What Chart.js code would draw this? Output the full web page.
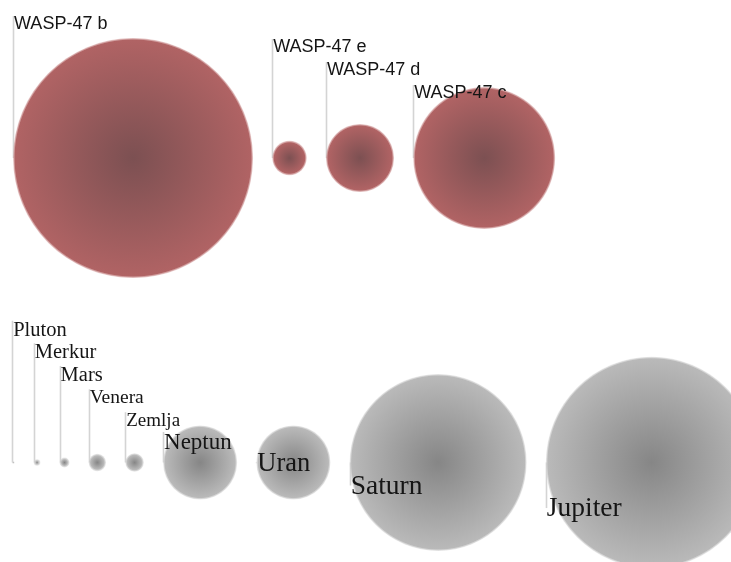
<!DOCTYPE html>
<html>
<head>
<meta charset="utf-8">
<script src="https://cdn.jsdelivr.net/npm/chart.js@4/dist/chart.umd.min.js"></script>
<style>
  html, body { margin: 0; padding: 0; background: #fff; }
  #wrap { width: 731px; height: 562px; }
</style>
</head>
<body>
<div id="wrap"><canvas id="c" width="731" height="562"></canvas></div>
<script>
// ---- data (planet radii, thousand km) ----
const waspNames = ['WASP-47 b', 'WASP-47 e', 'WASP-47 d', 'WASP-47 c'];
const waspRadii = [80, 11.5, 22.7, 47.3];
const solarNames = ['Pluton', 'Merkur', 'Mars', 'Venera', 'Zemlja', 'Neptun', 'Uran', 'Saturn', 'Jupiter'];
const solarRadii = [0.8, 2.2, 3.3, 5.8, 6.2, 24.7, 24.7, 59, 70.5];
const systemRows = [1, 0]; // row value: WASP-47 system on top, Solar system below

// ---- layout (scale units == thousand km) ----
const W = 731, H = 562;
const X_MAX = W / 1.5;        // 1.5 px per 1000 km
const PX = W / X_MAX;
const GAP = 12.8;             // gap between bubbles

function pack(names, radii, row, start) {
  let left = start;
  return radii.map((r, i) => {
    const x = left + r;
    left = x + r + GAP;
    return { x: x, y: row, r: r * PX, name: names[i] };
  });
}

function radialFill(inner, outer, rim) {
  return (ctx) => {
    if (ctx.type !== 'data' || !ctx.raw) return outer;
    const ch = ctx.chart;
    const sx = ch.scales.x, sy = ch.scales.y;
    if (!sx || !sy) return outer;
    const x = sx.getPixelForValue(ctx.raw.x);
    const y = sy.getPixelForValue(ctx.raw.y);
    const r = Math.max(ctx.raw.r, 0.5);
    if (!isFinite(x) || !isFinite(y) || !isFinite(r)) return outer;
    const g = ch.ctx.createRadialGradient(x, y, 0, x, y, r);
    g.addColorStop(0, inner);
    g.addColorStop(Math.max(0, 1 - 2.0 / r), outer);
    g.addColorStop(1, rim);
    return g;
  };
}

const labelPlugin = {
  id: 'planetLabels',
  beforeDatasetsDraw(chart, args, opts) {
    const c = chart.ctx;
    c.save();
    chart.data.datasets.forEach((ds, di) => {
      const cfg = opts.rows[di];
      const meta = chart.getDatasetMeta(di);
      meta.data.forEach((el, i) => {
        const r = el.options.radius;
        const lx = Math.round(el.x - r) + 0.5;
        const base = cfg.firstBaseline + i * cfg.step;
        const size = cfg.sizes[i];
        const top = base - size * 0.72;
        let y1, y2;
        if (base < el.y) { y1 = top; y2 = el.y; }
        else { y1 = el.y; y2 = base - size * 0.3; }
        c.strokeStyle = '#d4d4d4';
        c.lineWidth = 1.6;
        c.beginPath();
        c.moveTo(lx, y1);
        c.lineTo(lx, y2);
        c.stroke();
      });
    });
    c.restore();
  },
  afterDatasetsDraw(chart, args, opts) {
    const c = chart.ctx;
    c.save();
    chart.data.datasets.forEach((ds, di) => {
      const cfg = opts.rows[di];
      const meta = chart.getDatasetMeta(di);
      meta.data.forEach((el, i) => {
        const r = el.options.radius;
        const base = cfg.firstBaseline + i * cfg.step;
        c.font = cfg.sizes[i] + 'px ' + cfg.family;
        c.fillStyle = '#151515';
        c.textBaseline = 'alphabetic';
        c.textAlign = 'left';
        c.fillText(ds.data[i].name, el.x - r + 1, base);
      });
    });
    c.restore();
  }
};

const chart = new Chart(document.getElementById('c'), {
  type: 'bubble',
  data: {
    datasets: [
      {
        label: 'WASP-47',
        data: pack(waspNames, waspRadii, systemRows[0], 8.7),
        backgroundColor: radialFill('rgb(124,80,82)', 'rgb(176,99,100)', 'rgba(214,160,160,0.5)'),
        borderWidth: 0,
        clip: false
      },
      {
        label: 'Sunčev sustav',
        data: pack(solarNames, solarRadii, systemRows[1], 8.1),
        backgroundColor: radialFill('rgb(134,134,134)', 'rgb(185,185,185)', 'rgba(215,215,215,0.5)'),
        borderWidth: 0,
        clip: false
      }
    ]
  },
  options: {
    responsive: false,
    animation: false,
    events: [],
    layout: { padding: 0, autoPadding: false },
    scales: {
      x: { type: 'linear', display: false, min: 0, max: X_MAX },
      y: { type: 'linear', display: false, min: -0.3268, max: 1.519 }
    },
    plugins: {
      legend: { display: false },
      tooltip: { enabled: false },
      planetLabels: {
        rows: [
          { family: '"Liberation Sans", Arial, sans-serif', firstBaseline: 29, step: 23,
            sizes: [18, 18, 18, 18] },
          { family: '"Liberation Serif", "Times New Roman", serif', firstBaseline: 335.5, step: 22.6,
            sizes: [20.5, 20.5, 20.5, 19.5, 19, 23, 26.5, 27.5, 27.5] }
        ]
      }
    }
  },
  plugins: [labelPlugin]
});
</script>
</body>
</html>
